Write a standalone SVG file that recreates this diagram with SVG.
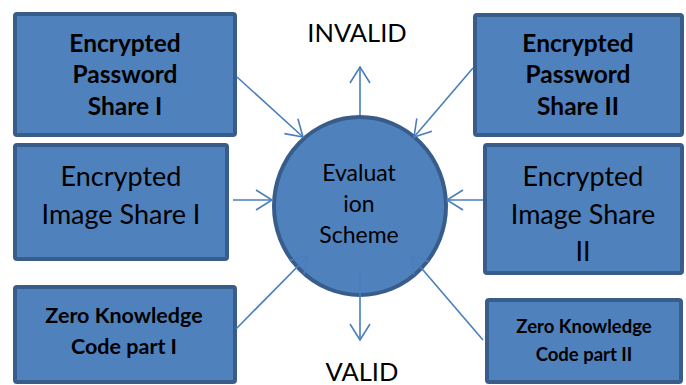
<svg xmlns="http://www.w3.org/2000/svg" width="686" height="385" viewBox="0 0 686 385">
  <defs>
    <style>
      .box { fill: #4f81bd; stroke: #385d8a; stroke-width: 4; }
      .lbl { font-family: Lato, "Open Sans", "Liberation Sans", sans-serif; fill: #000; text-anchor: middle; }
      .b { font-weight: bold; }
      .conn { stroke: #4a7ebb; stroke-width: 1.6; fill: none; marker-end: url(#open); }
    </style>
    <marker id="open" markerUnits="userSpaceOnUse" markerWidth="24" markerHeight="24" viewBox="-18 -12 20 24" refX="0" refY="0" orient="auto">
      <path d="M-16,-10 L0,0 L-16,10" fill="none" stroke="#4a7ebb" stroke-width="1.6"/>
    </marker>
  </defs>

  <rect width="686" height="385" fill="#ffffff"/>

  <g id="pwd1">
    <rect class="box" x="15" y="14" width="220" height="121" rx="2"/>
    <text class="lbl b" font-size="24.5" x="125" y="52">Encrypted</text>
    <text class="lbl b" font-size="24.5" x="125" y="83">Password</text>
    <text class="lbl b" font-size="24.5" x="125" y="115">Share I</text>
  </g>

  <g id="pwd2">
    <rect class="box" x="475" y="15" width="207" height="120" rx="2"/>
    <text class="lbl b" font-size="24.5" x="578" y="52">Encrypted</text>
    <text class="lbl b" font-size="24.5" x="578" y="83">Password</text>
    <text class="lbl b" font-size="24.5" x="578" y="115">Share II</text>
  </g>

  <g id="img1">
    <rect class="box" x="15" y="145" width="212" height="114" rx="2"/>
    <text class="lbl" font-size="27" x="121" y="186">Encrypted</text>
    <text class="lbl" font-size="27" x="121" y="224">Image Share I</text>
  </g>

  <g id="img2">
    <rect class="box" x="485" y="145" width="197" height="128" rx="2"/>
    <text class="lbl" font-size="27" x="583" y="186">Encrypted</text>
    <text class="lbl" font-size="27" x="583" y="224">Image Share</text>
    <text class="lbl" font-size="27" x="583" y="261">II</text>
  </g>

  <g id="zk1">
    <rect class="box" x="15" y="287" width="220" height="95" rx="2"/>
    <text class="lbl b" font-size="21.5" x="124" y="323">Zero Knowledge</text>
    <text class="lbl b" font-size="21.5" x="124" y="354">Code part I</text>
  </g>

  <g id="zk2">
    <rect class="box" x="487" y="300" width="194" height="82" rx="2"/>
    <text class="lbl b" font-size="18.5" x="584" y="333">Zero Knowledge</text>
    <text class="lbl b" font-size="18.5" x="584" y="361">Code part II</text>
  </g>

  <g id="evaluation">
    <ellipse class="box" cx="360" cy="206" rx="86" ry="89"/>
    <text class="lbl" font-size="23" x="359" y="181">Evaluat</text>
    <text class="lbl" font-size="23" x="359" y="212">ion</text>
    <text class="lbl" font-size="23" x="359" y="243">Scheme</text>
  </g>

  <g id="outcomes">
    <text class="lbl" font-size="25.5" x="357" y="42">INVALID</text>
    <text class="lbl" font-size="25.5" x="362" y="381">VALID</text>
  </g>

  <g id="connectors">
    <line class="conn" x1="237" y1="77" x2="303" y2="137"/>
    <line class="conn" x1="473" y1="68" x2="414" y2="137"/>
    <line class="conn" x1="233" y1="200" x2="272" y2="200"/>
    <line class="conn" x1="483" y1="200" x2="447" y2="200"/>
    <line class="conn" x1="236" y1="329" x2="308" y2="256"/>
    <line class="conn" x1="483" y1="340" x2="411" y2="256"/>
    <line class="conn" x1="360" y1="115" x2="360" y2="67"/>
    <line class="conn" x1="360" y1="270" x2="360" y2="340"/>
  </g>
</svg>
